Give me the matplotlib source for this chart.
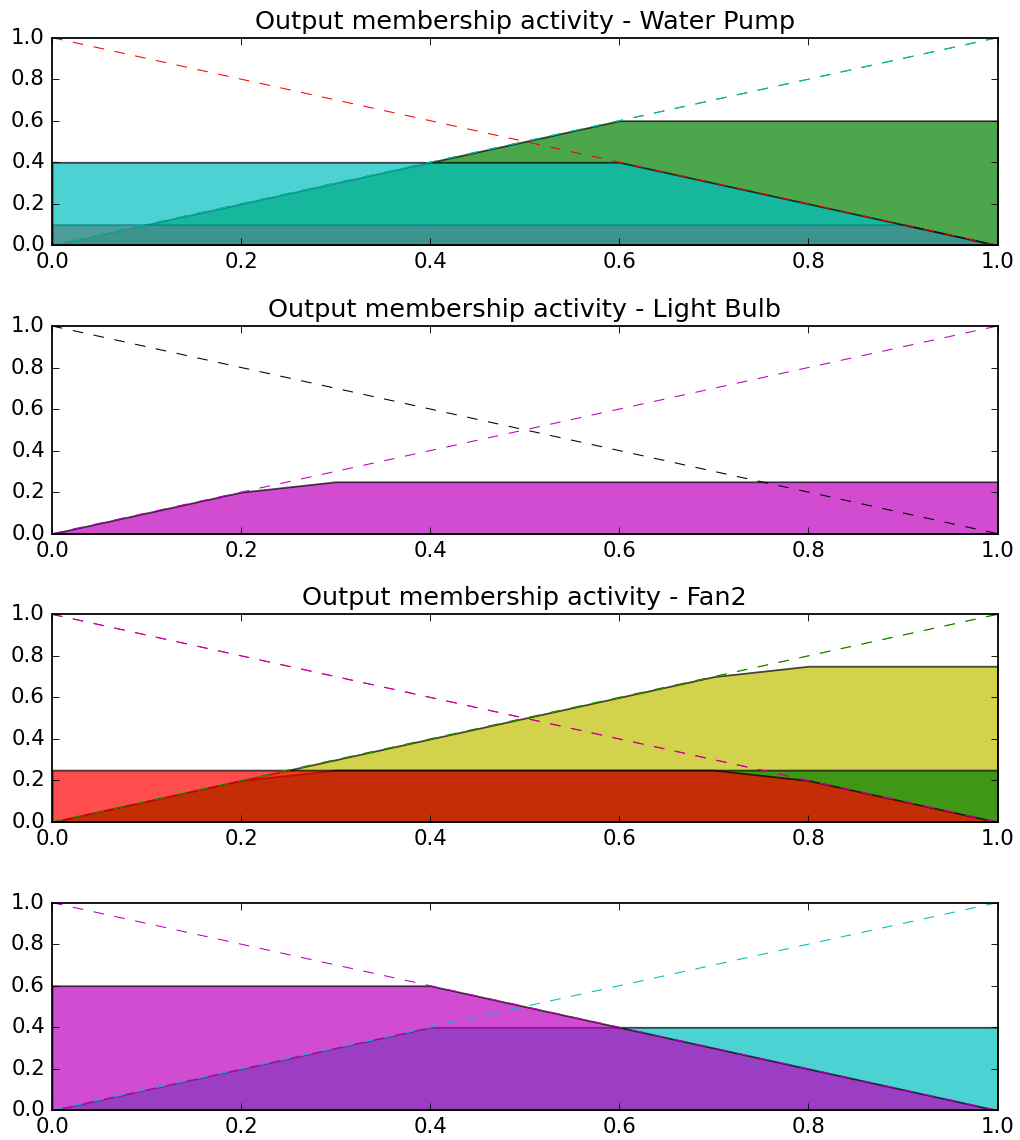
import matplotlib
matplotlib.use('Agg')
import matplotlib.pyplot as plt
import numpy as np

# universe and the two triangular memberships (sampled every 0.1)
x_out = [0.0, 0.1, 0.2, 0.3, 0.4, 0.5, 0.6, 0.7, 0.8, 0.9, 1.0]
mf_lo = [1.0, 0.9, 0.8, 0.7, 0.6, 0.5, 0.4, 0.3, 0.2, 0.1, 0.0]
mf_hi = [0.0, 0.1, 0.2, 0.3, 0.4, 0.5, 0.6, 0.7, 0.8, 0.9, 1.0]

titles = ['Output membership activity - Water Pump',
          'Output membership activity - Light Bulb',
          'Output membership activity - Fan2',
          '']

# dashed membership lines per panel: (membership, colour)
lines_pump = [('lo', 'r'), ('hi', 'g'), ('hi', 'c')]
lines_bulb = [('lo', 'k'), ('hi', 'm')]
lines_fan2 = [('lo', 'r'), ('lo', 'm'), ('hi', 'y'), ('hi', 'g')]
lines_out4 = [('lo', 'm'), ('hi', 'c')]

# activated (clipped) memberships per panel: (membership, activation, colour)
fills_pump = [('hi', 0.6, 'g'), ('lo', 0.1, 'r'), ('lo', 0.4, 'c')]
fills_bulb = [('lo', 0.0, 'k'), ('hi', 0.25, 'm')]
fills_fan2 = [('hi', 0.75, 'y'), ('hi', 0.25, 'g'), ('lo', 0.25, 'r')]
fills_out4 = [('hi', 0.4, 'c'), ('lo', 0.6, 'm')]

plt.style.use('classic')

x = np.array(x_out)
mfs = {'lo': np.array(mf_lo), 'hi': np.array(mf_hi)}
zero = np.zeros_like(x)

fig, axes = plt.subplots(nrows=4, figsize=(8, 1140 / 127.5))

panels = zip(axes, titles,
             [lines_pump, lines_bulb, lines_fan2, lines_out4],
             [fills_pump, fills_bulb, fills_fan2, fills_out4])

for ax, title, lines, fills in panels:
    for key, col in lines:
        ax.plot(x, mfs[key], col, linewidth=0.6, linestyle='--')
    for key, level, col in fills:
        ax.fill_between(x, zero, np.fmin(level, mfs[key]), facecolor=col, alpha=0.7)
    if title:
        ax.set_title(title)
    ax.set_xlim(0, 1)
    ax.set_ylim(0, 1)
    ax.set_xticks([0.0, 0.2, 0.4, 0.6, 0.8, 1.0])
    ax.set_yticks([0.0, 0.2, 0.4, 0.6, 0.8, 1.0])

fig.subplots_adjust(left=0.051, right=0.978, top=0.967, bottom=0.026, hspace=0.388)
plt.savefig('out.png', dpi=127.5, facecolor='white')
